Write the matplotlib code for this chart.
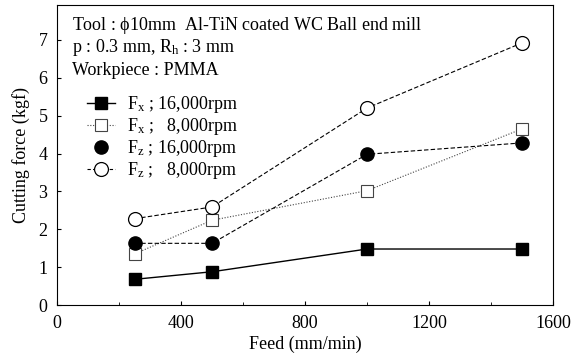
import matplotlib
matplotlib.use("Agg")
import matplotlib.pyplot as plt
from matplotlib.lines import Line2D

plt.rcParams['font.family'] = ['Liberation Serif', 'DejaVu Serif']
plt.rcParams['mathtext.fontset'] = 'custom'
plt.rcParams['mathtext.rm'] = 'Liberation Serif'
plt.rcParams['mathtext.it'] = 'Liberation Serif'

# data
feed = [250, 500, 1000, 1500]
fx_16000 = [0.68, 0.88, 1.48, 1.48]
fx_8000 = [1.35, 2.24, 3.02, 4.65]
fz_16000 = [1.63, 1.63, 3.98, 4.28]
fz_8000 = [2.28, 2.59, 5.2, 6.92]

labels = [r'F$_\mathrm{x}$ ; 16,000rpm', r'F$_\mathrm{x}$ ;   8,000rpm',
          r'F$_\mathrm{z}$ ; 16,000rpm', r'F$_\mathrm{z}$ ;   8,000rpm']

FS = 13

fig = plt.figure(figsize=(5.71, 3.56), dpi=100, facecolor='white')
ax = fig.add_axes([0.1, 0.143, 0.8685, 0.843])

ax.plot(feed, fx_16000, color='black', lw=1.0, ls='-', marker='s', ms=9,
        mfc='black', mec='black')
ax.plot(feed, fx_8000, color='#444444', lw=0.8, ls=(0, (1, 1.5)), marker='s', ms=9,
        mfc='white', mec='#444444', mew=0.8)
ax.plot(feed, fz_16000, color='black', lw=0.8, ls=(0, (4, 2)), marker='o', ms=9.5,
        mfc='black', mec='black')
ax.plot(feed, fz_8000, color='black', lw=0.8, ls=(0, (4, 2)), marker='o', ms=10,
        mfc='white', mec='black', mew=0.9)

ax.set_xlim(0, 1600)
ax.set_ylim(0, 7.92)
ax.set_xticks([0, 400, 800, 1200, 1600])
ax.set_xticks(range(0, 1601, 200), minor=True)
ax.set_yticks(range(0, 8))
ax.tick_params(direction='in', length=3, labelsize=FS, colors='black', pad=7)
ax.tick_params(which='minor', direction='in', length=2)
ax.set_xlabel('Feed (mm/min)', fontsize=FS, labelpad=3)
ax.set_ylabel('Cutting force (kgf)', fontsize=FS, labelpad=6)

for side in ['top', 'right', 'bottom']:
    ax.spines[side].set_linestyle((0, (1, 1)))
    ax.spines[side].set_linewidth(0.8)
ax.spines['left'].set_linewidth(0.8)

ax.text(0.03, 0.933, r'Tool : $\phi$10mm  Al-TiN coated WC Ball end mill',
        transform=ax.transAxes, fontsize=FS, va='center')
ax.text(0.03, 0.857, r'p : 0.3 mm, R$_\mathrm{h}$ : 3 mm',
        transform=ax.transAxes, fontsize=FS, va='center')
ax.text(0.03, 0.783, 'Workpiece : PMMA',
        transform=ax.transAxes, fontsize=FS, va='center')

handles = [
    Line2D([], [], color='black', lw=1.0, marker='s', ms=9, mfc='black'),
    Line2D([], [], color='#444444', lw=0.8, ls=(0, (1, 1.5)), marker='s', ms=9,
           mfc='white', mec='#444444', mew=0.8),
    Line2D([], [], ls='none', marker='o', ms=9.5, mfc='black', mec='black'),
    Line2D([], [], color='black', lw=0.8, ls=(0, (3, 2)), marker='o', ms=10,
           mfc='white', mec='black', mew=0.9),
]
ax.legend(handles, labels, loc='upper left', bbox_to_anchor=(0.06, 0.703),
          frameon=False, fontsize=FS, handlelength=1.55, handletextpad=0.67,
          labelspacing=0.05, borderaxespad=0, borderpad=0)

fig.savefig('out.png', dpi=100, facecolor='white')
